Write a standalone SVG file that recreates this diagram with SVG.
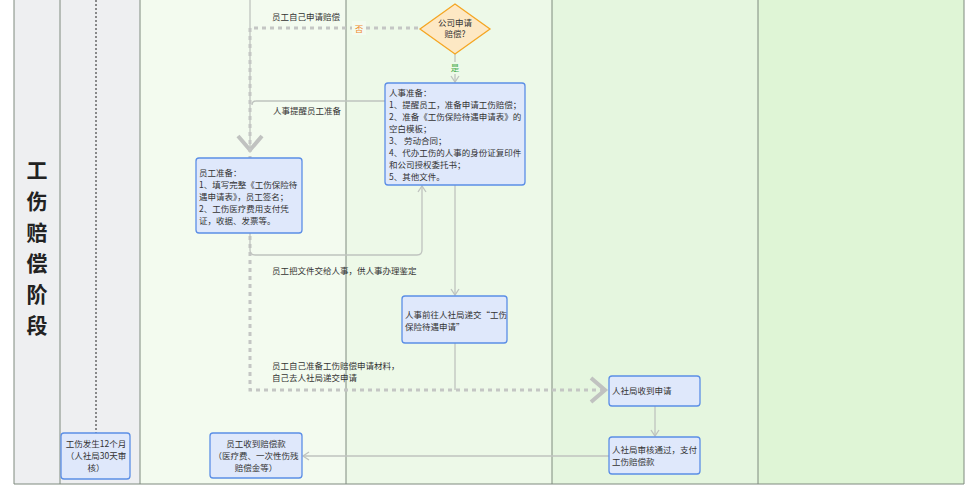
<svg xmlns="http://www.w3.org/2000/svg" width="978" height="500" viewBox="0 0 978 500">
<style>
text{font-family:"Noto Sans CJK SC","Liberation Sans",sans-serif;font-size:8.5px;fill:#333}
.box{fill:#dfe8fb;stroke:#5b8ee6;stroke-width:1.3}
.ln{fill:none;stroke:#bfc3bf;stroke-width:1.3}
.dl{fill:none;stroke:#c4c6c4;stroke-width:3;stroke-dasharray:4 4}
.lane{stroke:#7f8a7f;stroke-width:1}
.t{font-size:21px;font-weight:bold;fill:#222}
</style>
<defs>
<marker id="a" markerWidth="10" markerHeight="10" refX="8" refY="5" orient="auto" markerUnits="userSpaceOnUse"><path d="M2,1 L8,5 L2,9" fill="none" stroke="#bfc3bf" stroke-width="1.3"/></marker>
<marker id="b" markerWidth="24" markerHeight="28" refX="20" refY="14" orient="auto" markerUnits="userSpaceOnUse"><path d="M6,2 L20,14 L6,26" fill="none" stroke="#c0c2c0" stroke-width="4"/></marker>
</defs>
<rect width="978" height="500" fill="#fff"/>
<g id="lanes">
<rect x="14" y="0" width="126" height="484" fill="#eeeff1"/>
<rect x="140" y="0" width="206" height="484" fill="#f3fbef"/>
<rect x="346" y="0" width="206" height="484" fill="#edf9e8"/>
<rect x="552" y="0" width="206" height="484" fill="#e5f6df"/>
<rect x="758" y="0" width="206" height="484" fill="#dff5d6"/>
<line class="lane" x1="14" y1="0" x2="14" y2="484"/>
<line class="lane" x1="60" y1="0" x2="60" y2="484"/>
<line class="lane" x1="140" y1="0" x2="140" y2="484"/>
<line class="lane" x1="346" y1="0" x2="346" y2="484"/>
<line class="lane" x1="552" y1="0" x2="552" y2="484"/>
<line class="lane" x1="758" y1="0" x2="758" y2="484"/>
<line class="lane" x1="964" y1="0" x2="964" y2="484"/>
<line class="lane" x1="14" y1="484" x2="964" y2="484"/>
<line x1="96" y1="0" x2="96" y2="433" stroke="#222" stroke-width="1" stroke-dasharray="2 2"/>
<text class="t" x="37" y="178" text-anchor="middle">工</text>
<text class="t" x="37" y="209" text-anchor="middle">伤</text>
<text class="t" x="37" y="240" text-anchor="middle">赔</text>
<text class="t" x="37" y="271" text-anchor="middle">偿</text>
<text class="t" x="37" y="302" text-anchor="middle">阶</text>
<text class="t" x="37" y="333" text-anchor="middle">段</text>
</g>
<g id="connectors">
<path class="ln" d="M250,0 V150" marker-end="url(#b)"/>
<path class="dl" d="M418,28 H250 V390 H605" marker-end="url(#b)"/>
<rect x="352" y="21" width="14" height="14" fill="#f3fbef"/>
<text x="359" y="32" text-anchor="middle" style="fill:#f08a2c">否</text>
<text x="272" y="20">员工自己申请赔偿</text>
<path class="ln" d="M455,54 V82" marker-end="url(#a)"/>
<rect x="449" y="62" width="12" height="12" fill="#edf9e8"/>
<text x="455" y="71" text-anchor="middle" style="fill:#4caf50">是</text>
<path class="ln" d="M385,101 H256 Q252,101 252,105"/>
<text x="273" y="114">人事提醒员工准备</text>
<path class="ln" d="M250,233 V250 Q250,255 255,255 H417 Q422,255 422,250 V186" marker-end="url(#a)"/>
<text x="272" y="274">员工把文件交给人事，供人事办理鉴定</text>
<path class="ln" d="M455,185 V295" marker-end="url(#a)"/>
<path class="ln" d="M455,343 V390"/>
<text x="272" y="369">员工自己准备工伤赔偿申请材料，</text>
<text x="272" y="381">自己去人社局递交申请</text>
<path class="ln" d="M655,406 V436" marker-end="url(#a)"/>
<path class="ln" d="M609,456 H303" marker-end="url(#a)"/>
</g>
<g id="decision">
<polygon points="455,4 490,29 455,54 420,29" fill="#fde8c4" stroke="#f5a623" stroke-width="1.3"/>
<text x="455" y="26" text-anchor="middle">公司申请</text>
<text x="455" y="37" text-anchor="middle">赔偿?</text>
</g>
<g id="hr-prep">
<rect class="box" x="385" y="83" width="140" height="102" rx="3"/>
<text x="389" y="96">人事准备：</text>
<text x="389" y="108">1、提醒员工，准备申请工伤赔偿；</text>
<text x="389" y="120">2、准备《工伤保险待遇申请表》的</text>
<text x="389" y="132">空白模板；</text>
<text x="389" y="144">3、 劳动合同；</text>
<text x="389" y="156">4、代办工伤的人事的身份证复印件</text>
<text x="389" y="168">和公司授权委托书；</text>
<text x="389" y="180">5、其他文件。</text>
</g>
<g id="emp-prep">
<rect class="box" x="196" y="158" width="106" height="75" rx="3"/>
<text x="199" y="176">员工准备：</text>
<text x="199" y="188">1、填写完整《工伤保险待</text>
<text x="199" y="200">遇申请表》，员工签名；</text>
<text x="199" y="212">2、工伤医疗费用支付凭</text>
<text x="199" y="224">证，收据、发票等。</text>
</g>
<g id="hr-submit">
<rect class="box" x="402" y="296" width="105" height="47" rx="3"/>
<text x="405" y="318">人事前往人社局递交“工伤</text>
<text x="405" y="330">保险待遇申请”</text>
</g>
<g id="received">
<rect class="box" x="609" y="376" width="91" height="30" rx="3"/>
<text x="612" y="394">人社局收到申请</text>
</g>
<g id="approved">
<rect class="box" x="609" y="437" width="91" height="37" rx="3"/>
<text x="612" y="453">人社局审核通过，支付</text>
<text x="612" y="465">工伤赔偿款</text>
</g>
<g id="emp-paid">
<rect class="box" x="210" y="433" width="92" height="45" rx="3"/>
<text x="256" y="447" text-anchor="middle">员工收到赔偿款</text>
<text x="256" y="459" text-anchor="middle">（医疗费、一次性伤残</text>
<text x="256" y="471" text-anchor="middle">赔偿金等）</text>
</g>
<g id="time">
<rect class="box" x="61" y="433" width="69" height="46" rx="3"/>
<text x="96" y="447" text-anchor="middle">工伤发生12个月</text>
<text x="96" y="459" text-anchor="middle">（人社局30天审</text>
<text x="96" y="471" text-anchor="middle">核）</text>
</g>
</svg>
